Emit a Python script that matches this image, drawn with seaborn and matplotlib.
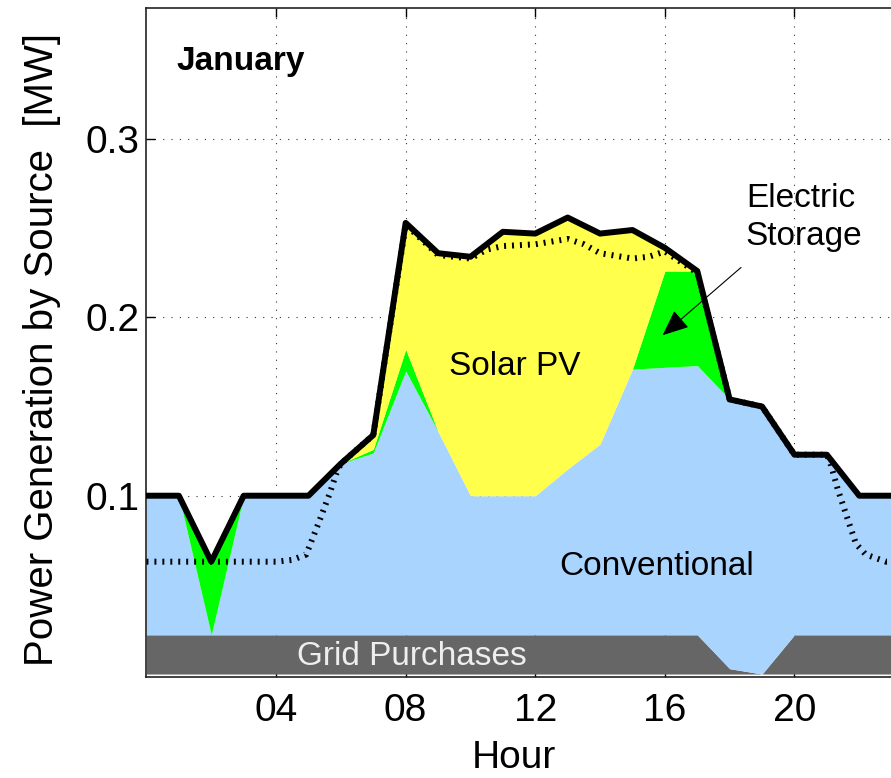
import matplotlib
matplotlib.use("Agg")
import matplotlib.pyplot as plt
import seaborn as sns

# hourly dispatch, January [MW]
hours = [0, 1, 2, 3, 4, 5, 6, 7, 8, 9, 10, 11, 12,
         13, 14, 15, 16, 17, 18, 19, 20, 21, 22, 23, 24]
grid_mw = [0.022, 0.022, 0.022, 0.022, 0.022, 0.022, 0.022, 0.022, 0.022,
           0.022, 0.022, 0.022, 0.022, 0.022, 0.022, 0.022, 0.022, 0.022,
           0.003, 0.000, 0.022, 0.022, 0.022, 0.022, 0.022]
conventional_mw = [0.078, 0.078, 0.000, 0.078, 0.078, 0.078, 0.096, 0.102,
                   0.148, 0.114, 0.078, 0.078, 0.078, 0.093, 0.107, 0.149,
                   0.150, 0.151, 0.151, 0.150, 0.101, 0.101, 0.078, 0.078, 0.078]
storage_mw = [0.0, 0.0, 0.041, 0.0, 0.0, 0.0, 0.0, 0.002, 0.012, 0.0, 0.0,
              0.0, 0.0, 0.0, 0.0, 0.0, 0.054, 0.053, 0.0, 0.0, 0.0, 0.0,
              0.0, 0.0, 0.0]
solar_mw = [0.0, 0.0, 0.0, 0.0, 0.0, 0.0, 0.0, 0.008, 0.071, 0.100, 0.134,
            0.148, 0.147, 0.141, 0.118, 0.078, 0.013, 0.0, 0.0, 0.0, 0.0,
            0.0, 0.0, 0.0, 0.0]

# original load (dotted)
load_hours = [0, 1, 2, 3, 4, 4.5, 4.93, 5.34, 5.65, 5.85, 6, 7, 8, 9, 10,
              10.5, 11, 12, 13, 13.5, 14, 15, 15.5, 16, 17, 18, 19, 20, 21,
              21.13, 21.33, 21.64, 21.9, 22.2, 22.83, 24]
load_mw = [0.063, 0.063, 0.063, 0.063, 0.063, 0.064, 0.067, 0.086, 0.101,
           0.112, 0.118, 0.134, 0.252, 0.235, 0.233, 0.238, 0.240, 0.241,
           0.244, 0.241, 0.236, 0.233, 0.234, 0.237, 0.225, 0.154, 0.150,
           0.123, 0.123, 0.117, 0.104, 0.087, 0.073, 0.067, 0.063, 0.063]

x_ticks = [4, 8, 12, 16, 20]
x_tick_labels = ["04", "08", "12", "16", "20"]
y_ticks = [0.1, 0.2, 0.3]
y_tick_labels = ["0.1", "0.2", "0.3"]

sns.set_theme(style="ticks")
plt.rcParams["font.family"] = ["Liberation Sans", "DejaVu Sans"]
plt.rcParams["text.color"] = "black"
plt.rcParams["axes.labelcolor"] = "black"

fig = plt.figure(figsize=(8.91, 7.78), dpi=100)
ax = fig.add_axes([0.1644, 0.1302, 0.8727, 0.8595])

ax.stackplot(hours, grid_mw, conventional_mw, storage_mw, solar_mw,
             colors=["#666666", "#a9d4fe", "#00ff00", "#ffff4c"],
             linewidth=0, zorder=1)

total_mw = [g + c + s + p for g, c, s, p in
            zip(grid_mw, conventional_mw, storage_mw, solar_mw)]

sns.lineplot(x=load_hours, y=load_mw, color="black", lw=4.3,
             linestyle=(0, (0.33, 1.0)), dash_capstyle="butt", ax=ax, zorder=3)
sns.lineplot(x=hours, y=total_mw, color="black", lw=4.3, ax=ax, zorder=4)

ax.set_xlim(0, 24)
ax.set_ylim(-0.0015, 0.3735)
ax.set_xticks(x_ticks)
ax.set_xticklabels(x_tick_labels, fontsize=28)
ax.set_yticks(y_ticks)
ax.set_yticklabels(y_tick_labels, fontsize=28)
ax.set_axisbelow(True)
ax.grid(True, color="#333333", lw=0.8, linestyle=(0, (1, 6.5)))
ax.tick_params(direction="in", length=6.5, width=1.0,
               top=True, right=True, colors="black")
ax.tick_params(axis="x", pad=12)
ax.tick_params(axis="y", pad=5)
for sp in ax.spines.values():
    sp.set_color("#222222")
    sp.set_linewidth(1.2)

ax.set_xlabel("Hour", fontsize=28)
ax.set_ylabel("Power Generation by Source  [MW]", fontsize=29)
ax.xaxis.set_label_coords(0.473, -0.095)
ax.yaxis.set_label_coords(-0.11, 0.49)

ax.text(0.93, 0.339, "January", fontsize=24, fontweight="bold", va="baseline")
ax.text(11.38, 0.1676, "Solar PV", fontsize=24, ha="center", va="baseline")
ax.text(15.74, 0.0555, "Conventional", fontsize=24, ha="center", va="baseline")
ax.text(18.5, 0.262, "Electric", fontsize=24, va="baseline")
ax.text(18.5, 0.2405, "Storage", fontsize=24, va="baseline")
ax.text(4.66, 0.005, "Grid Purchases", fontsize=24, color="#eeeeee",
        va="baseline", zorder=5)

ax.annotate("", xy=(15.93, 0.190), xytext=(18.35, 0.228),
            arrowprops=dict(arrowstyle="-|>,head_length=0.65,head_width=0.28",
                            mutation_scale=25, lw=0.8, color="black",
                            shrinkA=0, shrinkB=0), zorder=6)

fig.savefig("out.png", dpi=100)
